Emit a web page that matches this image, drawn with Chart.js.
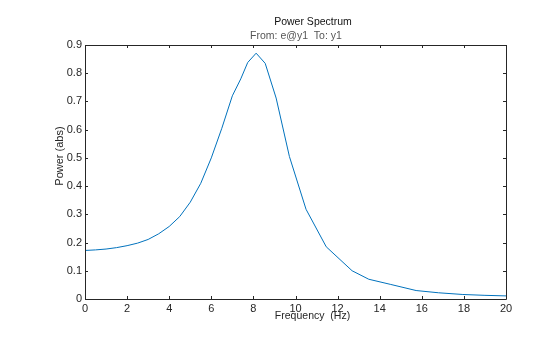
<!DOCTYPE html>
<html>
<head>
<meta charset="utf-8">
<script src="https://cdn.jsdelivr.net/npm/chart.js@4"></script>
<style>
  html, body { margin: 0; padding: 0; background: #fff; }
  #wrap { width: 560px; height: 337px; }
</style>
</head>
<body>
<div id="wrap"><canvas id="c" width="560" height="337"></canvas></div>
<script>
"use strict";

// values
const freqHz = [0, 0.5, 1, 1.5, 2, 2.5, 3, 3.5, 4, 4.5, 5, 5.5, 6, 6.5, 7, 7.4, 7.73, 8.13, 8.56, 9.08, 9.71, 10.5, 11.46, 12.69, 13.48, 14.5, 15.73, 16.8, 17.95, 19, 20];
const powerAbs = [0.172, 0.174, 0.177, 0.182, 0.189, 0.198, 0.211, 0.231, 0.257, 0.292, 0.343, 0.41, 0.5, 0.605, 0.72, 0.78, 0.838, 0.871, 0.835, 0.712, 0.505, 0.318, 0.185, 0.1, 0.07, 0.052, 0.03, 0.022, 0.016, 0.013, 0.011];
const xTicks = [0, 2, 4, 6, 8, 10, 12, 14, 16, 18, 20];
const yTicks = [0, 0.1, 0.2, 0.3, 0.4, 0.5, 0.6, 0.7, 0.8, 0.9];

const titleText = "Power Spectrum";
const subtitleText = "From: e@y1  To: y1";
const xLabel = "Frequency  (Hz)";
const yLabel = "Power (abs)";

const FONT = "'Liberation Sans', Arial, Helvetica, sans-serif";
const AXIS = "#262626";

// MATLAB style box with inward ticks plus the labels
const boxPlugin = {
    id: "box",
    afterDraw(chart) {
        const ctx = chart.ctx;
        const a = chart.chartArea;
        const xs = chart.scales.x;
        const ys = chart.scales.y;
        const tl = 3;
        ctx.save();
        ctx.strokeStyle = AXIS;
        ctx.lineWidth = 1;
        ctx.beginPath();
        ctx.rect(Math.round(a.left) + 0.5, Math.round(a.top) + 0.5, Math.round(a.right - a.left), Math.round(a.bottom - a.top));
        xTicks.forEach(function(v) {
            let px = Math.round(xs.getPixelForValue(v)) + 0.5;
            ctx.moveTo(px, a.bottom);
            ctx.lineTo(px, a.bottom - tl);
            ctx.moveTo(px, a.top);
            ctx.lineTo(px, a.top + tl);
        });
        yTicks.forEach(function(v) {
            let py = Math.round(ys.getPixelForValue(v)) + 0.5;
            ctx.moveTo(a.left, py);
            ctx.lineTo(a.left + tl, py);
            ctx.moveTo(a.right, py);
            ctx.lineTo(a.right - tl, py);
        });
        ctx.stroke();

        ctx.textAlign = "center";
        ctx.textBaseline = "middle";
        ctx.font = "10.5px " + FONT;
        ctx.fillStyle = "#111";
        ctx.fillText(titleText, 313, 22);
        ctx.fillStyle = "#555";
        ctx.fillText(subtitleText, 296, 36);
        ctx.fillStyle = AXIS;
        ctx.fillText(xLabel, 312.5, 316);
        ctx.font = "11px " + FONT;
        ctx.translate(60, 156);
        ctx.rotate(-Math.PI / 2);
        ctx.fillText(yLabel, 0, 0);
        ctx.restore();
    }
};

new Chart(document.getElementById("c"), {
    type: "line",
    data: {
        datasets: [ {
            data: freqHz.map(function(f, i) { return { x: f, y: powerAbs[i] }; }),
            borderColor: "#0072BD",
            borderWidth: 1,
            pointRadius: 0,
            tension: 0,
            fill: false
        } ]
    },
    options: {
        responsive: false,
        animation: false,
        layout: {
            padding: { left: 0, top: 45, right: 54, bottom: 0 }
        },
        plugins: {
            legend: { display: false },
            tooltip: { enabled: false }
        },
        scales: {
            x: {
                type: "linear",
                min: 0,
                max: 20,
                afterBuildTicks: function(s) { s.ticks = xTicks.map(function(v) { return { value: v }; }); },
                afterFit: function(s) { s.height = 38; },
                grid: { display: false, drawTicks: false },
                border: { display: false },
                ticks: {
                    color: AXIS,
                    font: { family: FONT, size: 11 },
                    padding: 3,
                    maxRotation: 0,
                    callback: function(v) { return String(v); }
                }
            },
            y: {
                type: "linear",
                min: 0,
                max: 0.9,
                afterBuildTicks: function(s) { s.ticks = yTicks.map(function(v) { return { value: v }; }); },
                afterFit: function(s) { s.width = 85; },
                grid: { display: false, drawTicks: false },
                border: { display: false },
                ticks: {
                    color: AXIS,
                    font: { family: FONT, size: 11 },
                    padding: 3,
                    callback: function(v) { return String(Math.round(v * 10) / 10); }
                }
            }
        }
    },
    plugins: [ boxPlugin ]
});
</script>
</body>
</html>
